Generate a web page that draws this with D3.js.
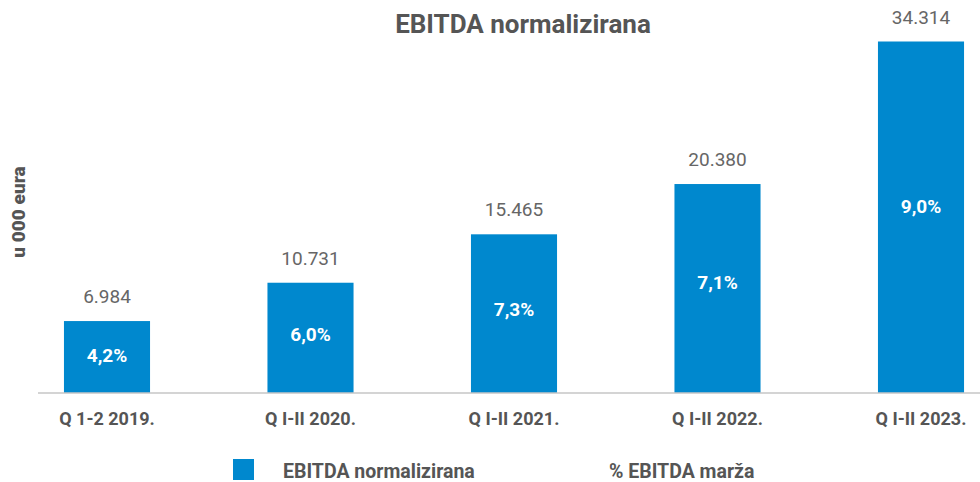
<!DOCTYPE html>
<html><head><meta charset="utf-8">
<script src="https://cdn.jsdelivr.net/npm/d3@7/dist/d3.min.js"></script>
<style>body{margin:0;background:#fff;}svg{display:block;font-family:Roboto,"Open Sans",sans-serif;}</style>
</head><body>
<svg id="c" width="980" height="482"></svg>
<script>
const categories = ["Q 1-2 2019.", "Q I-II 2020.", "Q I-II 2021.", "Q I-II 2022.", "Q I-II 2023."];
const ebitda = [6984, 10731, 15465, 20380, 34314];
const margin = ["4,2%", "6,0%", "7,3%", "7,1%", "9,0%"];
const valueLabels = ["6.984", "10.731", "15.465", "20.380", "34.314"];

const svg = d3.select("#c");
const baseY = 392.5;
const x = d3.scaleBand().domain(categories).range([5.25, 1022.75]).paddingInner(0.577).paddingOuter(0.2885);
const y = d3.scaleLinear().domain([0, 34314]).range([baseY, baseY - 351]);
const blue = "#0088CE";
const grey = "#555";

svg.append("text").attr("x", 523).attr("y", 33).attr("text-anchor", "middle")
  .attr("font-size", 26).attr("font-weight", "bold").attr("fill", grey).text("EBITDA normalizirana");

svg.append("text").attr("transform", "translate(25,212) rotate(-90)").attr("text-anchor", "middle")
  .attr("font-size", 19).attr("font-weight", "900").attr("fill", grey).text("u 000 eura");

svg.selectAll("rect.bar").data(ebitda).join("rect").attr("class", "bar")
  .attr("x", (d, i) => x(categories[i])).attr("width", x.bandwidth())
  .attr("y", d => y(d)).attr("height", d => baseY - y(d)).attr("fill", blue);

svg.append("line").attr("x1", 38).attr("x2", 980).attr("y1", baseY + 0.5).attr("y2", baseY + 0.5)
  .attr("stroke", "#aaa").attr("stroke-width", 1.2);

svg.selectAll("text.val").data(ebitda).join("text").attr("class", "val")
  .attr("x", (d, i) => x(categories[i]) + x.bandwidth() / 2).attr("y", d => y(d) - 18)
  .attr("text-anchor", "middle").attr("font-size", 19).attr("fill", "#666").text((d, i) => valueLabels[i]);

svg.selectAll("text.pct").data(ebitda).join("text").attr("class", "pct")
  .attr("x", (d, i) => x(categories[i]) + x.bandwidth() / 2).attr("y", d => baseY - (baseY - y(d)) * 0.53 + 7)
  .attr("text-anchor", "middle").attr("font-size", 19).attr("font-weight", "bold").attr("fill", "#fff")
  .text((d, i) => margin[i]);

const xAxis = d3.axisBottom(x).tickSize(0).tickPadding(0);
const gx = svg.append("g").attr("transform", `translate(0,${baseY})`).call(xAxis);
gx.select(".domain").remove();
gx.selectAll("text").attr("y", 32).attr("dy", 0).attr("font-size", 18).attr("font-weight", "bold")
  .attr("fill", grey).attr("font-family", "Roboto,'Open Sans',sans-serif");

svg.append("rect").attr("x", 233).attr("y", 459).attr("width", 21).attr("height", 21).attr("fill", blue);
svg.append("text").attr("x", 283).attr("y", 478).attr("font-size", 19.5).attr("font-weight", "bold").attr("fill", grey).text("EBITDA normalizirana");
svg.append("text").attr("x", 609).attr("y", 478).attr("font-size", 19.5).attr("font-weight", "bold").attr("fill", grey).text("% EBITDA marža");
</script>
</body></html>
